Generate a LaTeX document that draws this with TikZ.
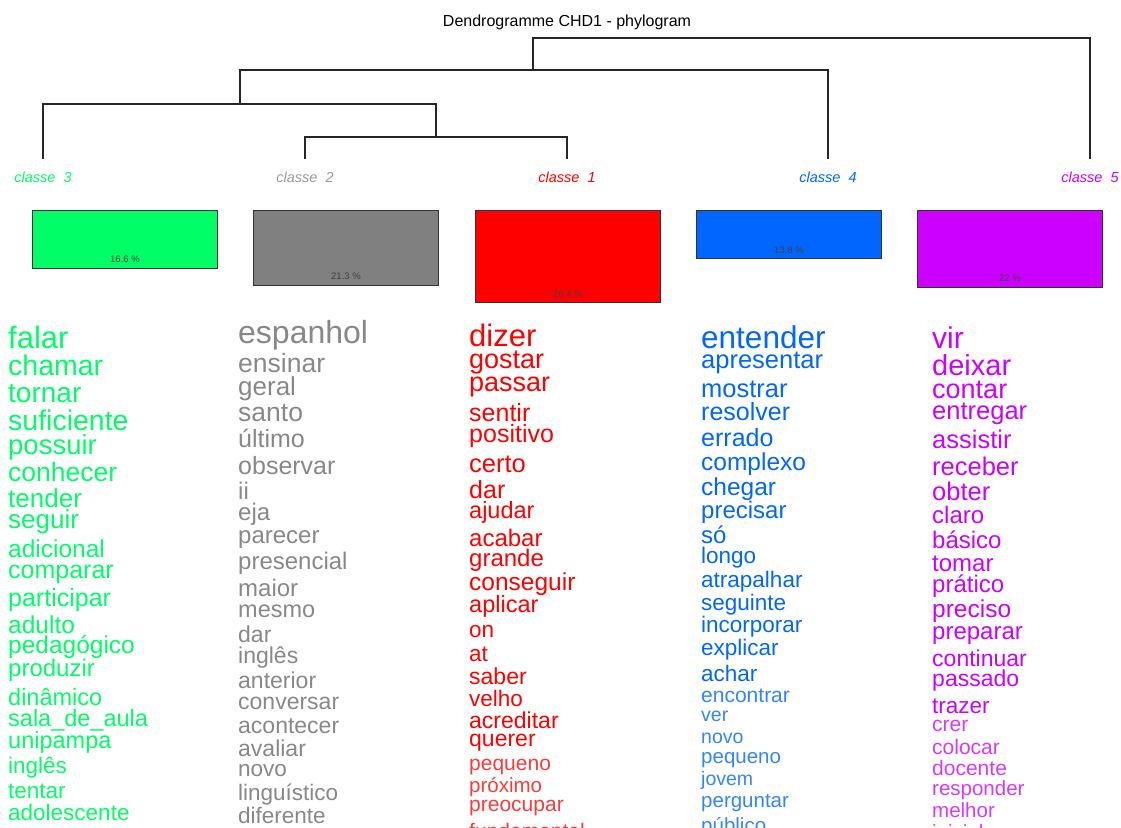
\documentclass[tikz,border=0pt]{standalone}
\usepackage{fontspec}
\setmainfont{Liberation Sans}
\usepackage{tikz}
\usetikzlibrary{positioning}

\definecolor{cred}{RGB}{255,0,0}
\definecolor{cgray}{RGB}{128,128,128}
\definecolor{cgraytxt}{RGB}{136,136,136}
\definecolor{cgreen}{RGB}{0,255,102}
\definecolor{cblue}{RGB}{0,102,255}
\definecolor{cpurple}{RGB}{204,0,255}

\tikzset{
  tree/.style={draw=black!85, line width=1.1pt},
  clabel/.style={anchor=base, inner xsep=0pt, inner ysep=12pt, font=\fontsize{14.5}{14.5}\selectfont\itshape},
  clbox/.style={draw=black!80, line width=1pt, anchor=north west, minimum width=185pt, inner sep=0pt},
  pct/.style={inner sep=0pt, text=black!75, font=\fontsize{9.5}{9.5}\selectfont},
  word/.style={anchor=base west, inner sep=0pt}
}

\begin{document}
\begin{tikzpicture}[x=1pt, y=-1pt]
  \useasboundingbox (0,0) rectangle (1121,827);
  \clip (0,0) rectangle (1121,827);

  \node[font=\fontsize{16}{16}\selectfont, anchor=base] (title) at (567,27) {Dendrogramme CHD1 - phylogram};

  % class labels (leaves)
  \node[clabel, text=cgreen] (l3) at (43,182) {classe\ \ 3};
  \node[clabel, text=cgray!80] (l2) at (305,182) {classe\ \ 2};
  \node[clabel, text=cred] (l1) at (567,182) {classe\ \ 1};
  \node[clabel, text=cblue] (l4) at (828,182) {classe\ \ 4};
  \node[clabel, text=cpurple] (l5) at (1090,182) {classe\ \ 5};

  % dendrogram
  \coordinate (m21) at (436,137);
  \coordinate (m321) at (240,104);
  \coordinate (m3214) at (533,70);
  \coordinate (root) at (811,38);
  \draw[tree] (l2.north) |- (m21) -| (l1.north);
  \draw[tree] (l3.north) |- (m321) -| (m21);
  \draw[tree] (m321) |- (m3214) -| (l4.north);
  \draw[tree] (m3214) |- (root) -| (l5.north);

  % class sizes
  \node[clbox, fill=cgreen, minimum height=58pt] (box3) at (32,210) {};
  \node[clbox, fill=cgray, minimum height=74.5pt] (box2) at (253,210) {};
  \node[clbox, fill=cred, minimum height=92.4pt] (box1) at (475,210) {};
  \node[clbox, fill=cblue, minimum height=48.3pt] (box4) at (696,210) {};
  \node[clbox, fill=cpurple, minimum height=77pt] (box5) at (917,210) {};
  \node[pct, above=6pt of box3.south] (pct3) {16.6 \%};
  \node[pct, above=6pt of box2.south] (pct2) {21.3 \%};
  \node[pct, above=6pt of box1.south] (pct1) {26.4 \%};
  \node[pct, above=6pt of box4.south] (pct4) {13.8 \%};
  \node[pct, above=6pt of box5.south] (pct5) {22 \%};

  % classe 3
  \foreach \wrd/\sz/\yb [count=\i] in {falar/31/348, chamar/28.5/375, tornar/28/402.5,
      suficiente/28.5/430.5, possuir/27.5/454, conhecer/26.5/481.5, tender/26/507,
      seguir/26/528, adicional/24.5/557, comparar/25/578, participar/25/606.5,
      adulto/24.5/633, pedagógico/24.5/653, produzir/24/676.5, dinâmico/23.5/705,
      sala\_de\_aula/23.5/726.5, unipampa/23.5/748, inglês/22.5/773, tentar/22.5/798,
      adolescente/22.5/820.5}
    \node[word, text=cgreen, font=\fontsize{\sz}{\sz}\selectfont] (w3-\i) at (8,\yb) {\wrd};

  % classe 2
  \foreach \wrd/\sz/\yb [count=\i] in {espanhol/32/343, ensinar/26.5/372.5, geral/26/395,
      santo/26.5/421.5, último/25/447.5, observar/25/474, ii/24/499, eja/24/520,
      parecer/24/543, presencial/24/569, maior/24/596, mesmo/23.5/617, dar/23/642.5,
      inglês/23/663, anterior/23/688, conversar/23/709, acontecer/23/733,
      avaliar/23/756.5, novo/22.5/776, linguístico/22.5/800, diferente/22.5/823}
    \node[word, text=cgraytxt, font=\fontsize{\sz}{\sz}\selectfont] (w2-\i) at (238,\yb) {\wrd};

  % classe 1
  \foreach \wrd/\sz/\yb [count=\i] in {dizer/31/346.5, gostar/27/368, passar/27/391.5,
      sentir/25/421.5, positivo/25/442.5, certo/25.5/472.5, dar/25/498, ajudar/23.5/518,
      acabar/24/546.5, grande/24/566, conseguir/24.5/590.5, aplicar/23.5/612.5,
      on/22.5/637, at/22.5/661, saber/23/684, velho/22.5/706, acreditar/23/728,
      querer/23/746.5}
    \node[word, text=cred, font=\fontsize{\sz}{\sz}\selectfont] (w1-\i) at (469,\yb) {\wrd};
  \foreach \wrd/\sz/\yb [count=\i from 19] in {pequeno/21/770, próximo/20.5/792.5,
      preocupar/21/811.5, fundamental/21/838}
    \node[word, text=cred!78, font=\fontsize{\sz}{\sz}\selectfont] (w1-\i) at (469,\yb) {\wrd};

  % classe 4
  \foreach \wrd/\sz/\yb [count=\i] in {entender/31.5/348, apresentar/25.5/368,
      mostrar/25.5/397, resolver/25/420.5, errado/25/446.5, complexo/24.5/470,
      chegar/24.5/495, precisar/24/518, só/24/543, longo/22.5/563, atrapalhar/22.5/587.5,
      seguinte/22.5/610.5, incorporar/22.5/632.5, explicar/22.5/655, achar/22.5/681.5}
    \node[word, text=cblue, font=\fontsize{\sz}{\sz}\selectfont] (w4-\i) at (701,\yb) {\wrd};
  \foreach \wrd/\sz/\yb [count=\i from 16] in {encontrar/21/702.5, ver/19.5/721.5,
      novo/19.5/743, pequeno/20.5/763, jovem/19.5/785, perguntar/20.5/807, público/20.5/832}
    \node[word, text=cblue!80, font=\fontsize{\sz}{\sz}\selectfont] (w4-\i) at (701,\yb) {\wrd};

  % classe 5
  \foreach \wrd/\sz/\yb [count=\i] in {vir/30/348, deixar/29/375, contar/27/398,
      entregar/25.5/419, assistir/25.5/448, receber/25.5/475, obter/25.5/500,
      claro/24/523, básico/24/548, tomar/24/571.5, prático/24/592.5, preciso/24.5/617,
      preparar/24/639, continuar/23/666.5, passado/23/686.5, trazer/22.5/713}
    \node[word, text=cpurple, font=\fontsize{\sz}{\sz}\selectfont] (w5-\i) at (932,\yb) {\wrd};
  \foreach \wrd/\sz/\yb [count=\i from 17] in {crer/21/731.5, colocar/21/754,
      docente/21/775, responder/20.5/795, melhor/20.5/817, inicial/20.5/839}
    \node[word, text=cpurple!78, font=\fontsize{\sz}{\sz}\selectfont] (w5-\i) at (932,\yb) {\wrd};
\end{tikzpicture}
\end{document}
